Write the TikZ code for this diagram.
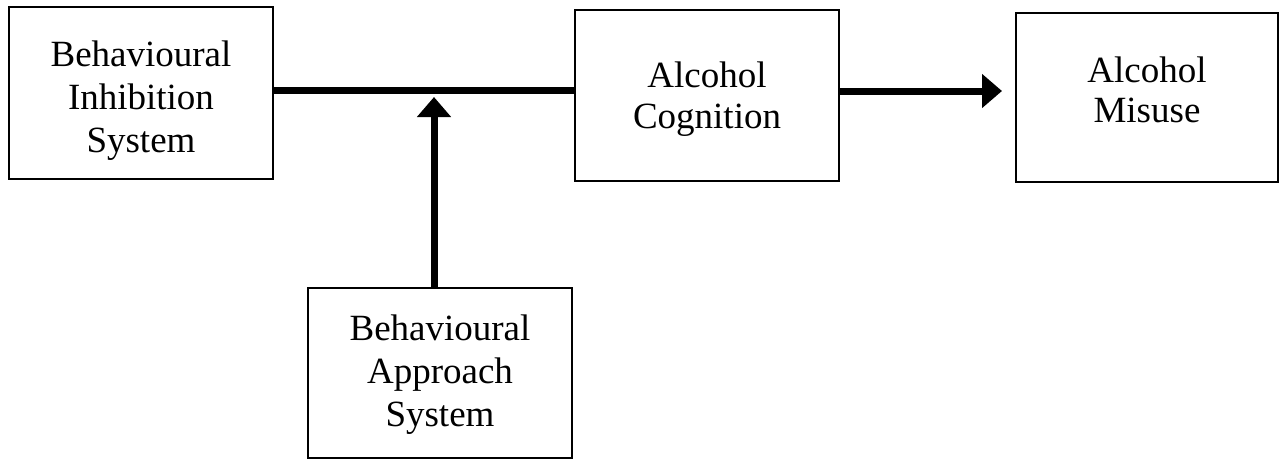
\documentclass[tikz,border=0pt]{standalone}
\usepackage{fontspec}
\setmainfont{Liberation Serif}
\usetikzlibrary{arrows.meta}

\begin{document}
\begin{tikzpicture}[x=0.5pt, y=-0.5pt, >={Triangle[length=10pt, width=16.5pt]}]
    % box and text styles (sizes are given in each node)
    \tikzset{
        varbox/.style={draw, line width=1pt, inner sep=0pt},
        vartext/.style={align=center, inner sep=0pt,
            font=\fontsize{18.5}{21.5}\selectfont},
        vartwo/.style={vartext, font=\fontsize{18.5}{20.2}\selectfont},
        path/.style={line width=3.5pt}
    }
    \useasboundingbox (0,0) rectangle (1283,461);

    % -------------------------------------------------------------
    % boxes
    % -------------------------------------------------------------
    \node[varbox, minimum width=132pt, minimum height=86pt] (bis) at (141, 93) {};
    \node[varbox, minimum width=132pt, minimum height=85.5pt] (cog) at (707, 95.5) {};
    \node[varbox, minimum width=131pt, minimum height=84.5pt] (mis) at (1147, 97.5) {};
    \node[varbox, minimum width=132pt, minimum height=85pt] (bas) at (440, 373) {};

    % texts in the boxes
    \node[vartext] (bisT) at ([yshift=-4pt]bis.center) {Behavioural\\Inhibition\\System};
    \node[vartwo] (cogT) at ([yshift=-1.75pt]cog.center) {Alcohol\\Cognition};
    \node[vartwo] (misT) at ([yshift=3.75pt]mis.center) {Alcohol\\Misuse};
    \node[vartext] (basT) at ([yshift=-1pt]bas.center) {Behavioural\\Approach\\System};

    % -------------------------------------------------------------
    % connectors
    % -------------------------------------------------------------
    \coordinate (junc) at (434, 90.5); % on the BIS -- cognition line
    \coordinate (tip) at (434, 97);    % tip of the moderating arrow

    % BIS -- alcohol cognition
    \draw[path] (bis.east |- junc) -- (cog.west |- junc);

    % BAS moderates the path
    \draw[path, ->] (bas.north -| tip) -- (tip);

    % alcohol cognition -> misuse
    \coordinate (end) at (1002, 91);
    \draw[path, ->] (cog.east |- end) -- (end);

\end{tikzpicture}
\end{document}
